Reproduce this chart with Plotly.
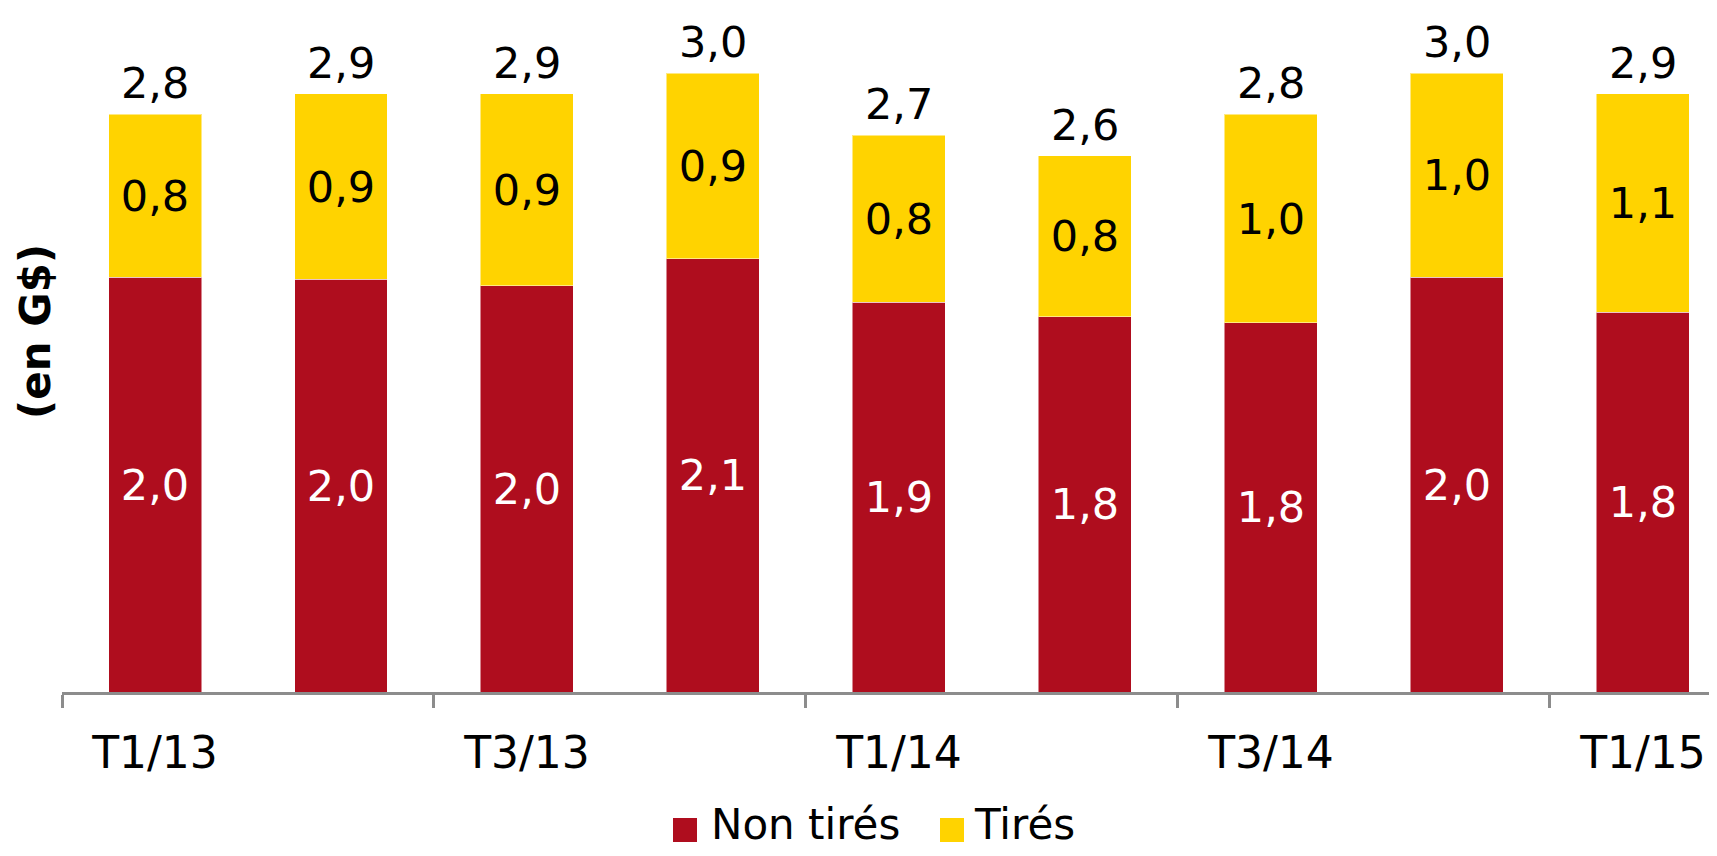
import plotly.graph_objects as go

QUARTERS = ["T1/13", "T2/13", "T3/13", "T4/13", "T1/14", "T2/14", "T3/14", "T4/14", "T1/15"]
NON_TIRES = [2.01, 2.00, 1.97, 2.10, 1.89, 1.82, 1.79, 2.01, 1.84]
TIRES = [0.79, 0.90, 0.93, 0.90, 0.81, 0.78, 1.01, 0.99, 1.06]
SERIES_NAMES = ["Non tirés", "Tirés"]

RED = "#AF0D1E"
YELLOW = "#FFD300"
FONT = "DejaVu Sans"

# figure geometry (page body adds 8px around the figure)
W, H = 1701, 840
ML, MB = 54, 156
PLOT_W, PLOT_H = W - ML, H - MB


def px(x):
    return (x - ML) / PLOT_W


def py(y):
    return (PLOT_H - y) / PLOT_H


totals = [round(a + b, 2) for a, b in zip(NON_TIRES, TIRES)]

fig = go.Figure()
for vals, name, col, txtcol in [
    (NON_TIRES, SERIES_NAMES[0], RED, "white"),
    (TIRES, SERIES_NAMES[1], YELLOW, "black"),
]:
    fig.add_trace(go.Bar(
        x=QUARTERS, y=vals, name=name, showlegend=False,
        marker=dict(color=col, line=dict(color="rgba(255,255,255,0.5)", width=1)),
        texttemplate="%{y:.1f}", textposition="inside", insidetextanchor="middle",
        textangle=0, constraintext="none",
        textfont=dict(color=txtcol, size=43, family=FONT),
    ))

# totals above each stack
for q, t in zip(QUARTERS, totals):
    fig.add_annotation(
        x=q, y=t, text=f"{t:.1f}".replace(".", ","), showarrow=False,
        xanchor="center", yanchor="bottom", yshift=4,
        font=dict(size=43, family=FONT, color="black"),
    )

fig.add_annotation(
    text="<b>(en G$)</b>", textangle=-90, showarrow=False, borderpad=0,
    xref="paper", yref="paper", x=px(27), y=py(324), xanchor="center", yanchor="middle",
    font=dict(size=42, family=FONT, color="black"),
)

# legend drawn by hand to get the large square swatches
LEG_Y = 816
legend_items = [(SERIES_NAMES[0], RED, 665, 702), (SERIES_NAMES[1], YELLOW, 932, 965)]
for name, col, sq_x, tx_x in legend_items:
    fig.add_shape(
        type="rect", xref="paper", yref="paper",
        xsizemode="pixel", ysizemode="pixel",
        xanchor=px(sq_x), yanchor=py(LEG_Y + 6),
        x0=0, x1=24, y0=-12, y1=12,
        fillcolor=col, line=dict(width=0),
    )
    fig.add_annotation(
        text=name, showarrow=False, xref="paper", yref="paper", borderpad=0,
        x=px(tx_x), y=py(LEG_Y), xanchor="left", yanchor="middle",
        font=dict(size=42, family=FONT, color="black"),
    )

fig.update_layout(
    barmode="stack",
    bargap=0.5,
    width=W, height=H,
    margin=dict(l=ML, r=0, t=0, b=MB, pad=0),
    plot_bgcolor="white", paper_bgcolor="white",
    separators=", ",
    font=dict(family=FONT, size=42, color="black"),
    showlegend=False,
    xaxis=dict(
        type="category", range=[-0.5, 8.355], dtick=2, tickson="boundaries",
        showline=True, linecolor="#8C8C8C", linewidth=3,
        ticks="outside", ticklen=13, tickwidth=3, tickcolor="#8C8C8C",
        tickfont=dict(size=44, family=FONT), ticklabelstandoff=20, showgrid=False,
    ),
    yaxis=dict(
        range=[0, 3.316], showticklabels=False, showgrid=False,
        zeroline=False, showline=False, ticks="",
    ),
)

fig.write_html("out.html")
